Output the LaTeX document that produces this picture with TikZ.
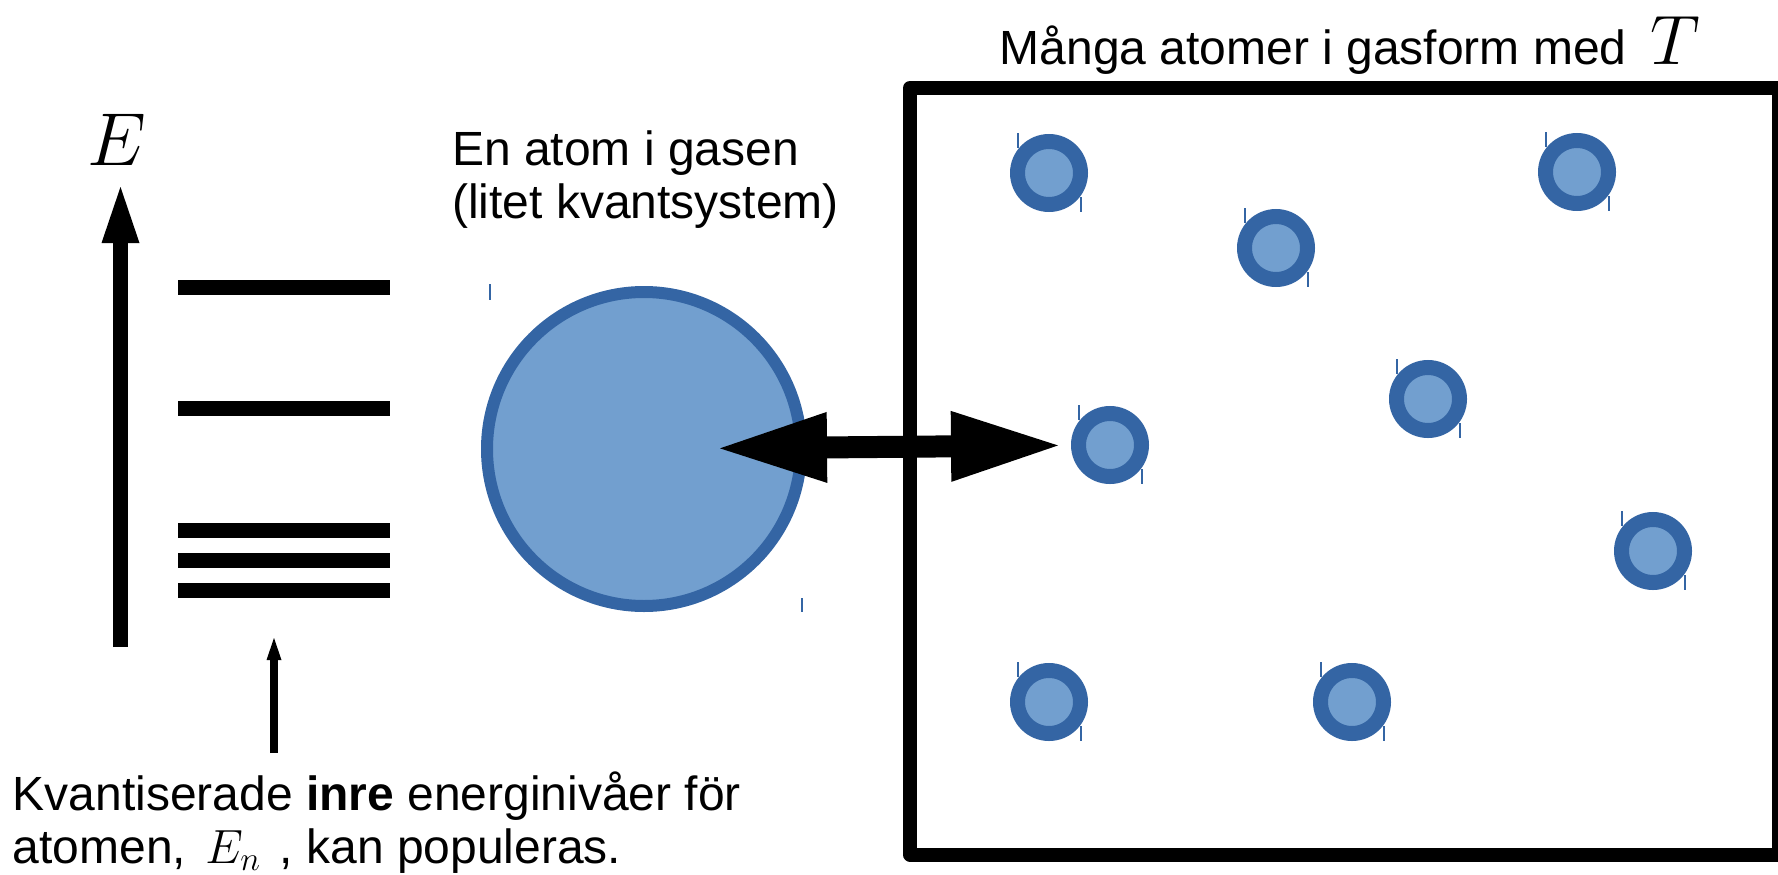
\RequirePackage{fix-cm}
\documentclass[tikz,border=0pt]{standalone}
\usepackage{fontspec}
\setmainfont{Liberation Sans}
\usepackage{tikz}
\usetikzlibrary{arrows.meta,positioning}
\definecolor{atomfyll}{HTML}{729FCF}
\definecolor{atomkant}{HTML}{3465A4}

\begin{document}
\begin{tikzpicture}[x=1pt, y=-1pt,
    atom/.style={circle, draw=atomkant, fill=atomfyll, line width=15pt, minimum size=63pt, inner sep=0pt},
    storatom/.style={circle, draw=atomkant, fill=atomfyll, line width=12pt, minimum size=314pt, inner sep=0pt},
    niva/.style={line width=15pt},
    markor/.style={draw=atomkant, line width=1.2pt},
    etikett/.style={font=\fontsize{48}{53}\selectfont, align=left, inner sep=0pt}]

    \useasboundingbox (0,0) rectangle (1778,875);

    % Energinivåer
    \node[inner sep=0pt] (Enamn) at (117,140) {\fontsize{75}{75}\selectfont$E$};
    \coordinate (Ebotten) at (120.5,647);
    \coordinate (Etopp) at (120.5,187);
    \draw[line width=15pt, -{Triangle[length=56pt, width=38pt, line width=0pt]}] (Ebotten) -- (Etopp);
    \foreach \niv in {287.5,408,530,560,590}
        \draw[niva] (178,\niv) -- (390,\niv);

    % Förklaring (ankaret ligger på sista radens baslinje)
    \node[etikett, anchor=base west] (forklaring) at (12.5,863) {Kvantiserade \textbf{inre} energinivåer för\\atomen, \hspace{6pt}$E_n$\hspace{6pt} , kan populeras.};
    \coordinate (pilbas) at (274,753);
    \coordinate (piltopp) at (274,638);
    \draw[line width=8pt, -{Triangle[length=22pt, width=15pt, line width=0pt]}] (pilbas) -- (piltopp);

    % En atom
    \node[storatom] (stor) at (644,449) {};
    \node[etikett, anchor=base west] (enatom) at (452,218) {En atom i gasen\\(litet kvantsystem)};
    \draw[markor] (490,284) -- (490,300) (802,598) -- (802,612);

    % Gasen
    \node[draw, line width=14pt, line join=round, minimum width=869pt, minimum height=766.5pt, inner sep=0pt] (gas) at (1344.5,471.25) {};
    \node[etikett, anchor=base west] (rubrik) at (999.5,64) {Många atomer i gasform med\hspace{24pt}{\fontsize{70}{70}\selectfont$T$}};
    \foreach \namn/\x/\y in {a1/1049/173, a2/1276/248, a3/1577/172, a4/1428/399,
                             a5/1110/445, a6/1653/551, a7/1049/702, a8/1352/702} {
        \node[atom] (\namn) at (\x,\y) {};
        \draw[markor] ({\x-31},{\y-40}) -- ++(0,15) ({\x+32},{\y+24}) -- ++(0,15);
    }

    % Växelverkan
    \draw[line width=22pt, {Triangle[length=107pt, width=71pt, line width=0pt]}-{Triangle[length=107pt, width=71pt, line width=0pt]},
        shorten <=76pt, shorten >=52pt] (stor.center) -- (a5.center);

\end{tikzpicture}
\end{document}
